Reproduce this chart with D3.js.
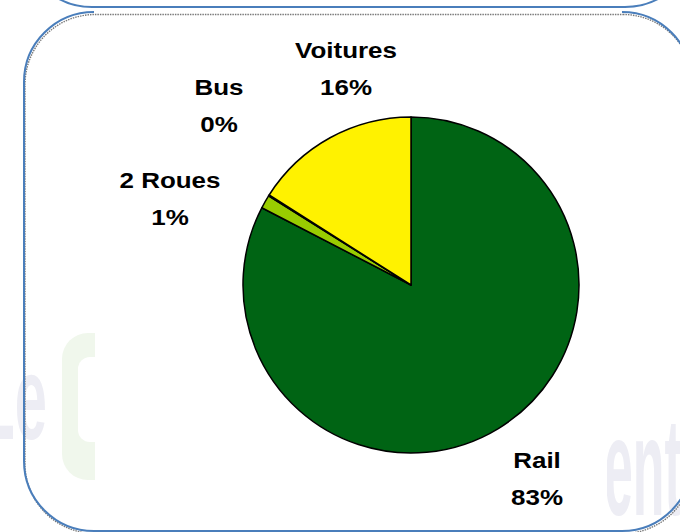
<!DOCTYPE html>
<html>
<head>
<meta charset="utf-8">
<script src="https://cdn.jsdelivr.net/npm/d3@7"></script>
<style>
  body { margin: 0; background: #fff; }
  svg { display: block; }
  .lbl { font-family: "Liberation Sans", Arial, sans-serif; font-weight: bold; font-size: 22px; fill: #000; }
</style>
</head>
<body>
<div id="chartDiv"></div>
<script>
// parts de marché par mode
var categories = ["Rail", "2 Roues", "Bus", "Voitures"];
var shares = [82.6, 1.3, 0.1, 16.0];
var sliceColors = ["#006414", "#99cc00", "#7fbf00", "#fff200"];

var width = 680, height = 532;
var cx = 411, cy = 285, radius = 168;

// where Excel put the data labels (first line baseline)
var labelPos = [[537, 468], [170, 188], [219, 95], [346, 58]];
var lineGap = 37.5;

var svg = d3.select("#chartDiv").append("svg")
	.attr("width", width)
	.attr("height", height);

// faint logo behind the chart area
var wm = svg.append("g").attr("class", "watermark");
wm.append("rect").attr("x", 62).attr("y", 333).attr("width", 70).attr("height", 147)
	.attr("rx", 26).attr("fill", "#f0f7ec");
wm.append("rect").attr("x", 78).attr("y", 357).attr("width", 70).attr("height", 85)
	.attr("rx", 12).attr("fill", "#fff");
wm.append("text").text("Le")
	.attr("transform", "translate(47,439) scale(0.49,1)")
	.attr("text-anchor", "end")
	.style("font-family", "Liberation Sans, Arial, sans-serif")
	.style("font-weight", "bold").style("font-size", "118px")
	.attr("fill", "#ededf4");
wm.append("text").text("ent")
	.attr("transform", "translate(604,515) scale(0.37,1)")
	.style("font-family", "Liberation Sans, Arial, sans-serif")
	.style("font-weight", "bold").style("font-size", "140px")
	.attr("fill", "#ededf4");

// plot area
svg.append("rect").attr("x", 95).attr("y", 0).attr("width", 512).attr("height", height)
	.attr("fill", "#fff");

function framePath(x0, y0, x1, y1, r, openTop) {
	var p = d3.path();
	p.moveTo(x1 - r, y0);
	p.arcTo(x1, y0, x1, y0 + r, r);
	p.lineTo(x1, y1 - r);
	p.arcTo(x1, y1, x1 - r, y1, r);
	p.lineTo(x0 + r, y1);
	p.arcTo(x0, y1, x0, y1 - r, r);
	p.lineTo(x0, y0 + r);
	p.arcTo(x0, y0, x0 + r, y0, r);
	if (!openTop) p.closePath();
	return p.toString();
}

// frames (shadow then blue line)
svg.append("path")
	.attr("d", framePath(24, 12, 692, 531, 70, false))
	.attr("transform", "translate(1,2.5)")
	.attr("fill", "none").attr("stroke", "#7a7a7a")
	.attr("stroke-width", 1.4).attr("stroke-dasharray", "1.5,1");
svg.append("path")
	.attr("d", framePath(24, 12, 692, 531, 70, true))
	.attr("fill", "none").attr("stroke", "#4a7ebb").attr("stroke-width", 2);
svg.append("path")
	.attr("d", framePath(22, -200, 695, 7, 70, false))
	.attr("fill", "none").attr("stroke", "#4a7ebb").attr("stroke-width", 2);

var data = categories.map(function(c, i) { return {name: c, value: shares[i], color: sliceColors[i]}; });
var total = d3.sum(shares);

var pie = d3.pie().sort(null).value(function(d) { return d.value; });
var arc = d3.arc().innerRadius(0).outerRadius(radius);

var g = svg.append("g").attr("transform", "translate(" + cx + "," + cy + ")");
g.selectAll("path.slice")
	.data(pie(data))
	.enter().append("path")
	.attr("class", "slice")
	.attr("d", arc)
	.attr("fill", function(d) { return d.data.color; })
	.attr("stroke", "#000")
	.attr("stroke-width", 1.5)
	.attr("stroke-linejoin", "round");

var labels = svg.selectAll("g.lab")
	.data(data)
	.enter().append("g")
	.attr("class", "lab")
	.attr("transform", function(d, i) { return "translate(" + labelPos[i][0] + "," + labelPos[i][1] + ") scale(1.18,1)"; });
labels.append("text").attr("class", "lbl").attr("text-anchor", "middle")
	.text(function(d) { return d.name; });
labels.append("text").attr("class", "lbl").attr("text-anchor", "middle")
	.attr("y", lineGap)
	.text(function(d) { return Math.round(d.value / total * 100) + "%"; });
</script>
</body>
</html>
